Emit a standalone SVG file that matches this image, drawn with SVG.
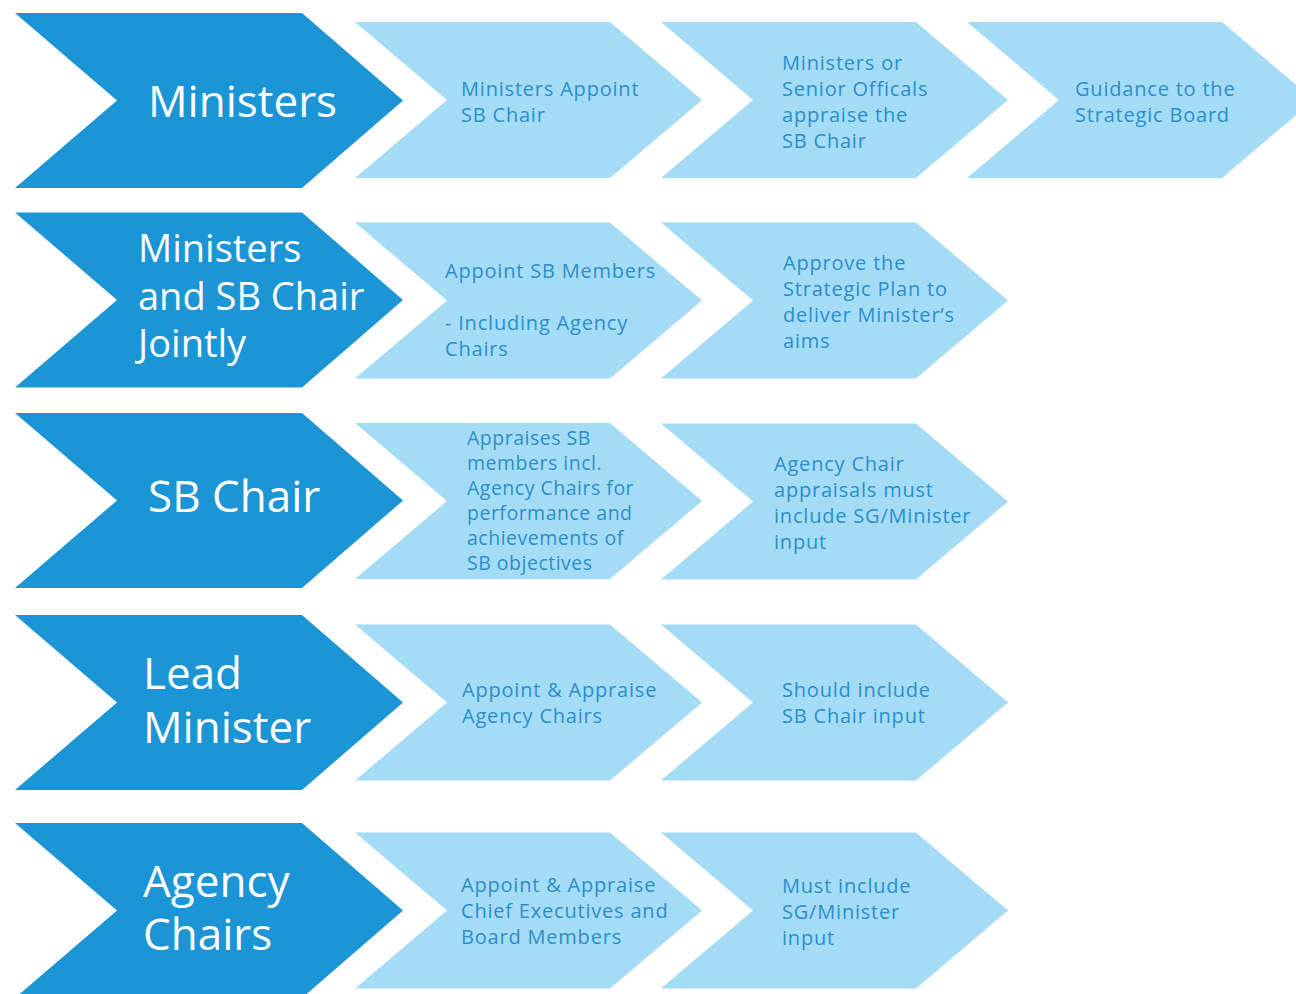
<svg xmlns="http://www.w3.org/2000/svg" width="1296" height="994" viewBox="0 0 1296 994">
  <defs>
    <!-- Chevron shapes, anchored at the left edge / vertical middle -->
    <polygon id="chev-dark" points="0,-87.5 287,-87.5 388,0 287,87.5 0,87.5 102,0"/>
    <polygon id="chev-light" points="0,-78 255,-78 347,0 255,78 0,78 92,0"/>
  </defs>
  <style>
    .dark { fill: #1b95d5; }
    .light { fill: #a5dcf5; }
    .head { font-family: "Open Sans", "Liberation Sans", sans-serif; font-size: 44px; fill: #ffffff; }
    .head2 { font-size: 38px; }
    .step { font-family: "Open Sans", "Liberation Sans", sans-serif; font-size: 20px; letter-spacing: 0.8px; fill: #2a8fcb; }
    .small { font-size: 19.5px; letter-spacing: 0.5px; }
  </style>
  <rect width="1296" height="994" fill="#ffffff"/>

  <!-- Row 1: Ministers -->
  <g id="ministers">
    <use href="#chev-dark" class="dark" x="15" y="100.5"/>
    <text class="head" x="148" y="117">Ministers</text>
  </g>
  <g id="ministers-appoint">
    <use href="#chev-light" class="light" x="355" y="100"/>
    <text class="step" x="461" y="96">Ministers Appoint</text>
    <text class="step" x="461" y="122">SB Chair</text>
  </g>
  <g id="ministers-appraise">
    <use href="#chev-light" class="light" x="661" y="100"/>
    <text class="step" x="782" y="70">Ministers or</text>
    <text class="step" x="782" y="96">Senior Officals</text>
    <text class="step" x="782" y="122">appraise the</text>
    <text class="step" x="782" y="148">SB Chair</text>
  </g>
  <g id="ministers-guidance">
    <use href="#chev-light" class="light" x="967" y="100"/>
    <text class="step" x="1075" y="96">Guidance to the</text>
    <text class="step" x="1075" y="122">Strategic Board</text>
  </g>

  <!-- Row 2: Ministers and SB Chair jointly -->
  <g id="joint">
    <use href="#chev-dark" class="dark" x="15" y="300"/>
    <text class="head head2" x="138" y="262">Ministers</text>
    <text class="head head2" x="138" y="310">and SB Chair</text>
    <text class="head head2" x="138" y="357">Jointly</text>
  </g>
  <g id="joint-members">
    <use href="#chev-light" class="light" x="355" y="300.5"/>
    <text class="step" x="445" y="278">Appoint SB Members</text>
    <text class="step" x="445" y="330">- Including Agency</text>
    <text class="step" x="445" y="356">Chairs</text>
  </g>
  <g id="joint-plan">
    <use href="#chev-light" class="light" x="661" y="300.5"/>
    <text class="step" x="783" y="270">Approve the</text>
    <text class="step" x="783" y="296">Strategic Plan to</text>
    <text class="step" x="783" y="322">deliver Minister’s</text>
    <text class="step" x="783" y="348">aims</text>
  </g>

  <!-- Row 3: SB Chair -->
  <g id="sb-chair">
    <use href="#chev-dark" class="dark" x="15" y="500.5"/>
    <text class="head" x="148" y="512">SB Chair</text>
  </g>
  <g id="sb-appraises">
    <use href="#chev-light" class="light" x="355" y="501"/>
    <text class="step small" x="467" y="445">Appraises SB</text>
    <text class="step small" x="467" y="470">members incl.</text>
    <text class="step small" x="467" y="495">Agency Chairs for</text>
    <text class="step small" x="467" y="520">performance and</text>
    <text class="step small" x="467" y="545">achievements of</text>
    <text class="step small" x="467" y="570">SB objectives</text>
  </g>
  <g id="sb-agency-input">
    <use href="#chev-light" class="light" x="661" y="501.5"/>
    <text class="step" x="774" y="471">Agency Chair</text>
    <text class="step" x="774" y="497">appraisals must</text>
    <text class="step" x="774" y="523">include SG/Minister</text>
    <text class="step" x="774" y="549">input</text>
  </g>

  <!-- Row 4: Lead Minister -->
  <g id="lead-minister">
    <use href="#chev-dark" class="dark" x="15" y="702.5"/>
    <text class="head" x="143" y="689">Lead</text>
    <text class="head" x="143" y="743">Minister</text>
  </g>
  <g id="lead-appoint">
    <use href="#chev-light" class="light" x="355" y="702.5"/>
    <text class="step" x="462" y="697">Appoint &amp; Appraise</text>
    <text class="step" x="462" y="723">Agency Chairs</text>
  </g>
  <g id="lead-input">
    <use href="#chev-light" class="light" x="661" y="702.5"/>
    <text class="step" x="782" y="697">Should include</text>
    <text class="step" x="782" y="723">SB Chair input</text>
  </g>

  <!-- Row 5: Agency Chairs -->
  <g id="agency-chairs">
    <use href="#chev-dark" class="dark" x="15" y="910.5"/>
    <text class="head" x="143" y="897">Agency</text>
    <text class="head" x="143" y="950">Chairs</text>
  </g>
  <g id="agency-appoint">
    <use href="#chev-light" class="light" x="355" y="910.5"/>
    <text class="step" x="461" y="892">Appoint &amp; Appraise</text>
    <text class="step" x="461" y="918">Chief Executives and</text>
    <text class="step" x="461" y="944">Board Members</text>
  </g>
  <g id="agency-input">
    <use href="#chev-light" class="light" x="661" y="910.5"/>
    <text class="step" x="782" y="893">Must include</text>
    <text class="step" x="782" y="919">SG/Minister</text>
    <text class="step" x="782" y="945">input</text>
  </g>
</svg>
